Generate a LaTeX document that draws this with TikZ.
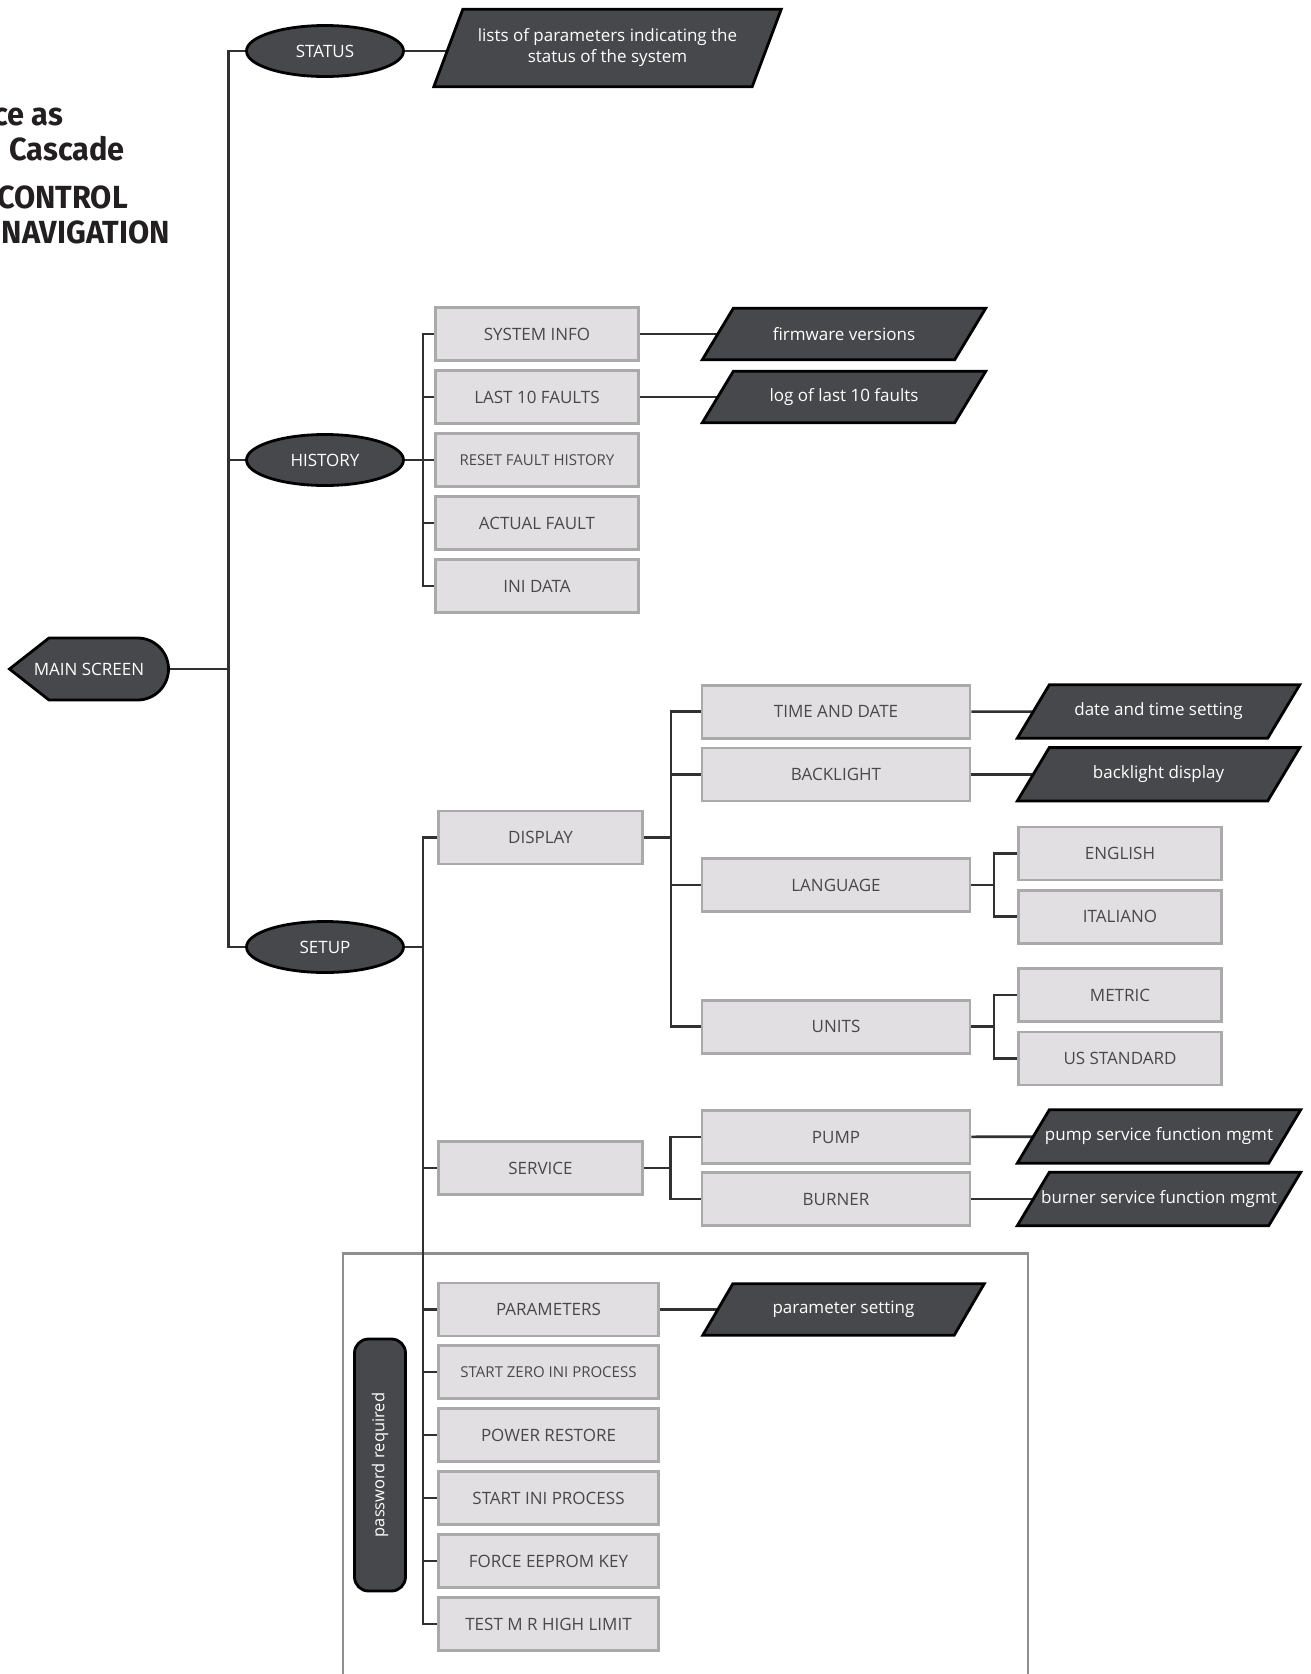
\documentclass[tikz,border=0pt]{standalone}
\usepackage{fontspec}
\setmainfont{Open Sans}
\newfontfamily\titlefont{Fira Sans}
\usetikzlibrary{shapes.geometric,backgrounds}
\pgfdeclarelayer{mid}
\pgfsetlayers{background,mid,main}
\definecolor{darkfill}{HTML}{47484B}
\definecolor{connc}{HTML}{2F3133}
\definecolor{boxfill}{HTML}{E2DFE2}
\definecolor{boxline}{HTML}{AAAAAB}
\definecolor{boxtext}{HTML}{48484A}
\definecolor{frameline}{HTML}{8F8F8F}
\definecolor{titlec}{HTML}{231F20}
\newcommand\drawpara[2]{\filldraw[fill=darkfill,draw=black,line width=2.8pt,line join=miter]
  ([xshift=#2]#1.north west) -- ([xshift=#2]#1.north east) -- ([xshift=-#2]#1.south east) -- ([xshift=-#2]#1.south west) -- cycle;}
\begin{document}
\begin{tikzpicture}[x=1pt,y=-1pt,
 conn/.style={draw=connc,line width=2.6pt},
 menubox/.style={rectangle,fill=boxfill,draw=boxline,line width=2.6pt,text=boxtext,font=\fontsize{17}{20}\selectfont,inner sep=0pt,minimum height=53pt},
 smalltxt/.style={font=\fontsize{15}{18}\selectfont},
 darkell/.style={ellipse,fill=darkfill,draw=black,line width=2.8pt,text=white,font=\fontsize{17}{20}\selectfont,minimum width=157pt,minimum height=51pt,inner sep=0pt},
 outtext/.style={rectangle,inner sep=0pt,text=white,font=\fontsize{17}{20}\selectfont,align=center},
 titletxt/.style={font=\titlefont\bfseries\fontsize{32}{36}\selectfont,text=titlec,inner sep=0pt,anchor=base east,xscale=0.96}
]
\useasboundingbox (0,0) rectangle (1310,1674);
\clip (0,0) rectangle (1310,1674);

% title (cut off at the left edge)
\node[titletxt] (t1) at (63,125) {ce as};
\node[titletxt] (t2) at (125,160) {n Cascade};
\node[titletxt] (t3) at (128,208) {CONTROL};
\node[titletxt] (t4) at (170,243) {NAVIGATION};

% main screen
\filldraw[fill=darkfill,draw=black,line width=2.8pt]
  (9.5,669) -- (49,638) -- (137.5,638)
  .. controls (154.6,638) and (168.5,651.9) .. (168.5,669)
  .. controls (168.5,686.1) and (154.6,700) .. (137.5,700)
  -- (49,700) -- cycle;
\node[inner sep=0pt,minimum width=159pt,minimum height=62pt,text=white,font=\fontsize{17}{20}\selectfont] (main) at (89,669) {MAIN SCREEN};

% level 1
\node[darkell] (status) at (325,51) {STATUS};
\node[darkell] (history) at (325,460) {HISTORY};
\node[darkell] (setup) at (325,947) {SETUP};

\node[outtext,minimum width=318pt,minimum height=77pt] (statusP) at (607.5,48) {lists of parameters indicating the\\[1pt]status of the system};

% history
\node[menubox,minimum width=203pt] (sysinfo) at (537,334) {SYSTEM INFO};
\node[menubox,minimum width=203pt] (last10) at (537,397) {LAST 10 FAULTS};
\node[menubox,smalltxt,minimum width=203pt] (resetfh) at (537,460) {RESET FAULT HISTORY};
\node[menubox,minimum width=203pt] (actual) at (537,523) {ACTUAL FAULT};
\node[menubox,minimum width=203pt] (inidata) at (537,586) {INI DATA};
\node[outtext,minimum width=252pt,minimum height=51pt] (fwP) at (844,334) {firmware versions};
\node[outtext,minimum width=252pt,minimum height=51pt] (logP) at (844,397) {log of last 10 faults};

% setup
\node[menubox,minimum width=204pt] (display) at (540.5,837.5) {DISPLAY};
\node[menubox,minimum width=204pt] (service) at (540.5,1168) {SERVICE};
\node[menubox,minimum width=268pt] (timedate) at (836,711.7) {TIME AND DATE};
\node[menubox,minimum width=268pt] (backlight) at (836,774.3) {BACKLIGHT};
\node[menubox,minimum width=268pt] (language) at (836,885) {LANGUAGE};
\node[menubox,minimum width=268pt] (units) at (836,1026.7) {UNITS};
\node[menubox,minimum width=268pt] (pump) at (836,1137) {PUMP};
\node[menubox,minimum width=268pt] (burner) at (836,1199) {BURNER};
\node[menubox,minimum width=203pt] (english) at (1120,853.3) {ENGLISH};
\node[menubox,minimum width=203pt] (italiano) at (1120,916.7) {ITALIANO};
\node[menubox,minimum width=203pt] (metric) at (1120,995) {METRIC};
\node[menubox,minimum width=203pt] (usstd) at (1120,1058.3) {US STANDARD};
\node[outtext,minimum width=250pt,minimum height=53pt] (dateP) at (1158.5,711.5) {date and time setting};
\node[outtext,minimum width=250pt,minimum height=53pt] (backP) at (1158.5,774.3) {backlight display};
\node[outtext,minimum width=251pt,minimum height=53pt] (pumpP) at (1159,1136.5) {pump service function mgmt};
\node[outtext,minimum width=251pt,minimum height=53pt] (burnerP) at (1159,1199) {burner service function mgmt};

% password group
\node[menubox,minimum width=220pt] (params) at (548.5,1309.5) {PARAMETERS};
\node[menubox,smalltxt,minimum width=220pt] (startzero) at (548.5,1372) {START ZERO INI PROCESS};
\node[menubox,minimum width=220pt] (powerrest) at (548.5,1435) {POWER RESTORE};
\node[menubox,minimum width=220pt] (startini) at (548.5,1498) {START INI PROCESS};
\node[menubox,minimum width=220pt] (forceee) at (548.5,1561) {FORCE EEPROM KEY};
\node[menubox,minimum width=220pt] (testmr) at (548.5,1624) {TEST M R HIGH LIMIT};
\node[outtext,minimum width=251pt,minimum height=51pt] (paramP) at (843.5,1309.5) {parameter setting};
\node[fill=darkfill,draw=black,line width=2.8pt,rounded corners=14pt,rotate=90,minimum width=252pt,minimum height=51pt,inner sep=0pt,text=white,font=\fontsize{16.5}{19}\selectfont] (pw) at (380,1465) {password required};

\begin{pgfonlayer}{mid}
\drawpara{statusP}{14.5pt}
\drawpara{fwP}{15.5pt}
\drawpara{logP}{15.5pt}
\drawpara{dateP}{16pt}
\drawpara{backP}{16pt}
\drawpara{pumpP}{16pt}
\drawpara{burnerP}{16pt}
\drawpara{paramP}{15pt}
\end{pgfonlayer}

\coordinate (trunk) at (228.7,0);
\coordinate (hb) at (423,0);
\coordinate (sb) at (423,0);
\coordinate (db) at (671,0);
\coordinate (lb) at (994,0);
\coordinate (svb) at (670.6,0);

\begin{pgfonlayer}{background}
\node[draw=frameline,line width=2.5pt,anchor=north west,inner sep=0pt,minimum width=685pt,minimum height=470pt] (pwframe) at (341.5,1252) {};
% trunk
\draw[conn] (status) -- (status -| trunk) |- (setup);
\draw[conn] (history) -- (history -| trunk);
\draw[conn] (main.east) -- (main.east -| trunk);
\draw[conn] (status) -- (status -| statusP);
% history
\draw[conn] (history) -- (history -| hb);
\draw[conn] (sysinfo) -- (sysinfo -| hb) |- (inidata);
\draw[conn] (last10) -- (last10 -| hb);
\draw[conn] (resetfh) -- (resetfh -| hb);
\draw[conn] (actual) -- (actual -| hb);
\draw[conn] (sysinfo) -- (fwP);
\draw[conn] (last10) -- (logP);
% setup
\draw[conn] (setup) -- (setup -| sb);
\draw[conn] (display) -- (display -| sb) |- (testmr);
\draw[conn] (service) -- (service -| sb);
\draw[conn] (params) -- (params -| sb);
\draw[conn] (startzero) -- (startzero -| sb);
\draw[conn] (powerrest) -- (powerrest -| sb);
\draw[conn] (startini) -- (startini -| sb);
\draw[conn] (forceee) -- (forceee -| sb);
\draw[conn] (params) -- (paramP);
% display
\draw[conn] (display) -- (display -| db);
\draw[conn] (timedate) -- (timedate -| db) |- (units);
\draw[conn] (backlight) -- (backlight -| db);
\draw[conn] (language) -- (language -| db);
\draw[conn] (timedate) -- (dateP);
\draw[conn] (backlight) -- (backP);
\draw[conn] (language) -- (language -| lb);
\draw[conn] (english) -- (english -| lb) |- (italiano);
\draw[conn] (units) -- (units -| lb);
\draw[conn] (metric) -- (metric -| lb) |- (usstd);
% service
\draw[conn] (service) -- (service -| svb);
\draw[conn] (pump) -- (pump -| svb) |- (burner);
\draw[conn] (pump) -- (pumpP);
\draw[conn] (burner) -- (burnerP);
\end{pgfonlayer}
\end{tikzpicture}
\end{document}
